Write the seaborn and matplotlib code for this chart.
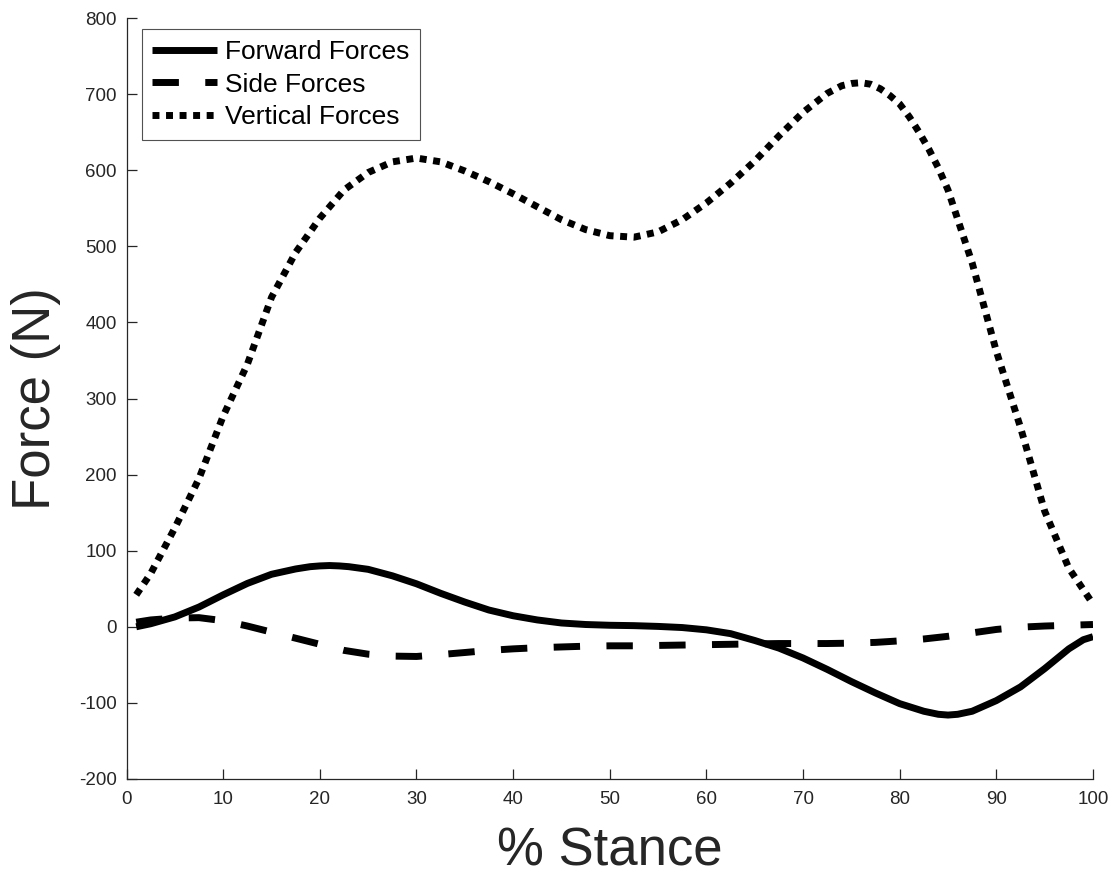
import matplotlib
matplotlib.use("Agg")
import matplotlib.pyplot as plt
import seaborn as sns
import pandas as pd

# % stance positions and readings for each series
forward_x = [1, 2.5, 5, 7.5, 10, 12.5, 15, 17.5, 19, 20, 21, 22, 23, 25, 27.5, 30,
             32.5, 35, 37.5, 40, 42.5, 45, 47.5, 50, 52.5, 55, 57.5, 60, 62.5, 65,
             67.5, 70, 72.5, 75, 77.5, 80, 82.5, 84, 85, 86, 87.5, 90, 92.5, 95,
             97.5, 99, 100]
forward = [0, 4, 13, 26, 42, 57, 69, 76, 79, 80, 80.5, 80, 79, 75.5, 67, 56.5,
           44, 32.5, 22, 14.5, 9, 5, 3, 2, 1.5, 0.5, -1, -4, -9, -18,
           -28, -41, -56, -72, -87, -101, -111, -115, -116, -115, -111, -97, -79, -55,
           -29, -17, -13]

side_x = [1, 2.5, 5, 7.5, 10, 12.5, 15, 17.5, 20, 22.5, 25, 27.5, 30, 32.5, 35,
          37.5, 40, 42.5, 45, 47.5, 50, 52.5, 55, 57.5, 60, 62.5, 65, 67.5, 70,
          72.5, 75, 77.5, 80, 82.5, 85, 87.5, 90, 92.5, 95, 97.5, 100]
side = [6, 9, 11.5, 12, 8, 1, -7, -15, -23, -31, -36, -38.5, -39, -36.5, -33.8,
        -31, -29, -27.5, -26.5, -25.5, -25, -25, -24.5, -24, -23.5, -23, -22.5, -22, -22,
        -22, -21.5, -20.5, -18.5, -16, -12.5, -8, -3.5, -0.5, 1, 2, 3]

vertical_x = [1, 2.5, 5, 7.5, 10, 12.5, 15, 17.5, 20, 22.5, 25, 27.5, 30, 32.5, 35,
              37.5, 40, 42.5, 45, 47.5, 50, 52.5, 55, 57.5, 60, 62.5, 65, 67.5, 70,
              72.5, 74, 75, 76, 77, 78, 79, 80, 81, 82, 83, 84, 85, 87.5, 90, 92.5,
              95, 97.5, 100]
vertical = [42, 70, 130, 195, 277, 345, 433, 492, 537, 574, 597, 611, 616, 611, 599,
            585, 569, 552, 535, 522, 514, 512, 519, 535, 557, 583, 612, 645, 676,
            701, 711, 714, 715, 713, 707, 698, 687, 670, 650, 628, 603, 574, 478, 362, 262,
            152, 77, 30]

labels = ["Forward Forces", "Side Forces", "Vertical Forces"]
x_ticks = list(range(0, 101, 10))
y_ticks = list(range(-200, 801, 100))

sns.set_style("white")
plt.rcParams['font.family'] = ['Liberation Sans', 'DejaVu Sans']

axis_col = "#262626"
fig = plt.figure(figsize=(11.17, 8.8), dpi=100)
ax = fig.add_axes([0.1133, 0.1148, 0.8652, 0.8647])

lw = 5.0
styles = [None, (3.8, 3.8), (1.0, 0.95)]
for xs, series, lab, dsh in zip([forward_x, side_x, vertical_x],
                                [forward, side, vertical], labels, styles):
    df = pd.DataFrame({"x": xs, "y": series})
    sns.lineplot(data=df, x="x", y="y", ax=ax, color="black", linewidth=lw,
                 label=lab, estimator=None, sort=False)
    line = ax.lines[-1]
    if dsh is not None:
        line.set_dashes(dsh)
    line.set_dash_capstyle("butt")
    line.set_solid_capstyle("butt")
    line.set_solid_joinstyle("round")

ax.set_xlim(0, 100)
ax.set_ylim(-200, 800)
ax.set_xticks(x_ticks)
ax.set_yticks(y_ticks)
ax.set_xticklabels([str(v) for v in x_ticks])
ax.set_yticklabels([str(v) for v in y_ticks])

for s in ["top", "right"]:
    ax.spines[s].set_visible(False)
for s in ["left", "bottom"]:
    ax.spines[s].set_color(axis_col)
    ax.spines[s].set_linewidth(0.9)

ax.tick_params(axis="both", direction="in", length=7, width=0.9, color=axis_col,
               labelcolor=axis_col, labelsize=13.5, bottom=True, left=True,
               top=False, right=False)
ax.tick_params(axis="x", pad=9)
ax.tick_params(axis="y", pad=7)

ax.set_xlabel("% Stance", fontsize=38, color=axis_col, labelpad=13)
ax.set_ylabel("Force (N)", fontsize=38, color=axis_col, labelpad=13)

leg = ax.legend(loc="upper left", bbox_to_anchor=(0.0157, 0.985), borderaxespad=0,
                fontsize=19, frameon=True, fancybox=False, handlelength=2.45,
                handletextpad=0.3, labelspacing=0.33, borderpad=0.4)
leg.get_frame().set_edgecolor(axis_col)
leg.get_frame().set_linewidth(0.8)
for h, dsh in zip(leg.get_lines(), styles):
    h.set_linewidth(lw)
    if dsh is not None:
        h.set_dashes(dsh)
    h.set_dash_capstyle("butt")
for t in leg.get_texts():
    t.set_color("black")

fig.savefig("out.png", dpi=100)
